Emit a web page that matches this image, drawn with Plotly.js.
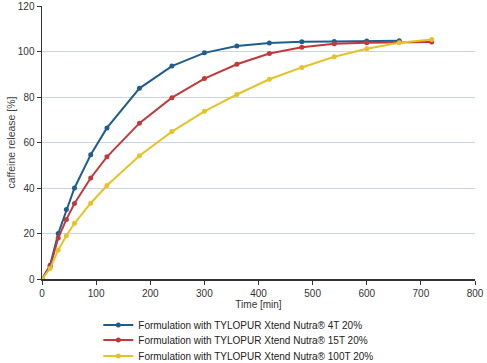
<!DOCTYPE html>
<html><head><meta charset="utf-8">
<script src="https://cdn.plot.ly/plotly-3.0.1.min.js"></script>
<style>html,body{margin:0;padding:0;background:#fff}#c{width:487px;height:363px}</style>
</head><body><div id="c"></div>
<script>
const time4T = [0, 15, 30, 45, 60, 90, 120, 180, 240, 300, 360, 420, 480, 540, 600, 660];
const rel4T = [0, 6, 20, 30.5, 40, 54.6, 66.4, 83.8, 93.6, 99.4, 102.4, 103.7, 104.3, 104.4, 104.6, 104.7];
const time15T = [0, 15, 30, 45, 60, 90, 120, 180, 240, 300, 360, 420, 480, 540, 600, 660, 720];
const rel15T = [0, 5.5, 18, 26.2, 33.2, 44.4, 53.7, 68.5, 79.7, 88.1, 94.4, 99.1, 101.9, 103.4, 103.9, 104.2, 104.2];
const time100T = [0, 15, 30, 45, 60, 90, 120, 180, 240, 300, 360, 420, 480, 540, 600, 660, 720];
const rel100T = [0, 4.6, 12.8, 19, 24.5, 33.3, 41.1, 54.2, 64.8, 73.7, 81.1, 87.8, 93, 97.7, 101.2, 103.8, 105.3];
const names = ["Formulation with TYLOPUR Xtend Nutra® 4T 20%",
               "Formulation with TYLOPUR Xtend Nutra® 15T 20%",
               "Formulation with TYLOPUR Xtend Nutra® 100T 20%"];
const colors = ["#1f5d8c", "#c0393b", "#e6c229"];
const legendIds = ["legend", "legend2", "legend3"];
const xs = [time4T, time15T, time100T];
const ys = [rel4T, rel15T, rel100T];
const traces = xs.map((x, i) => ({
  x: x, y: ys[i], name: names[i], type: "scatter", mode: "lines+markers",
  legend: legendIds[i],
  line: {color: colors[i], width: 2}, marker: {color: colors[i], size: 5}
}));
const legendStyle = (yc) => ({
  orientation: "h", xref: "paper", yref: "container", x: 0.13, y: yc,
  xanchor: "left", yanchor: "middle",
  font: {size: 10, color: "#222"}, bgcolor: "rgba(0,0,0,0)"
});
const layout = {
  width: 487, height: 363,
  margin: {l: 42, r: 12, t: 6, b: 84},
  paper_bgcolor: "#fff", plot_bgcolor: "#fff",
  font: {family: "Liberation Sans, Arial, sans-serif", size: 10, color: "#333"},
  showlegend: true,
  legend: legendStyle(0.1047),
  legend2: legendStyle(0.0634),
  legend3: legendStyle(0.0193),
  xaxis: {range: [0, 800], dtick: 100, tick0: 0, showgrid: false, zeroline: false,
          showline: true, linecolor: "#333", linewidth: 1.5, ticks: "outside", ticklen: 4,
          tickcolor: "#333", title: {text: "Time [min]", standoff: 4, font: {size: 10}}},
  yaxis: {range: [0, 120], dtick: 20, tick0: 0, showgrid: true, gridcolor: "#c9d5e4", gridwidth: 1,
          zeroline: false, showline: true, linecolor: "#333", linewidth: 1.5, ticks: "outside",
          ticklen: 4, tickcolor: "#333",
          title: {text: "caffeine release [%]", standoff: 0, font: {size: 10.5, color: "#444"}}}
};
Plotly.newPlot("c", traces, layout, {displayModeBar: false, staticPlot: true});
</script></body></html>
